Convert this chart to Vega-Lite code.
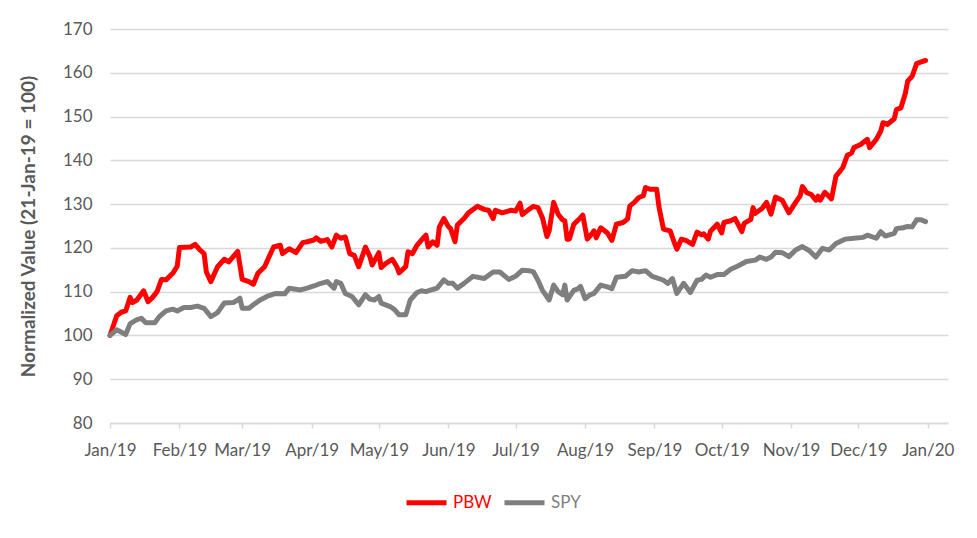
{
  "$schema": "https://vega.github.io/schema/vega-lite/v6.json",
  "description": "PBW vs SPY, normalized to 21-Jan-19 = 100",
  "width": 838,
  "height": 394,
  "autosize": "none",
  "padding": {"left": 110, "top": 29, "right": 29, "bottom": 115},
  "background": "white",
  "data": {"values": [
    {"date": "2019-01-21", "ticker": "PBW", "value": 100},
    {"date": "2019-01-24", "ticker": "PBW", "value": 104.5},
    {"date": "2019-01-26", "ticker": "PBW", "value": 105.3},
    {"date": "2019-01-28", "ticker": "PBW", "value": 105.6},
    {"date": "2019-01-30", "ticker": "PBW", "value": 108.7},
    {"date": "2019-01-31", "ticker": "PBW", "value": 107.5},
    {"date": "2019-02-02", "ticker": "PBW", "value": 108.1},
    {"date": "2019-02-05", "ticker": "PBW", "value": 110.2},
    {"date": "2019-02-07", "ticker": "PBW", "value": 107.7},
    {"date": "2019-02-09", "ticker": "PBW", "value": 108.7},
    {"date": "2019-02-11", "ticker": "PBW", "value": 110},
    {"date": "2019-02-13", "ticker": "PBW", "value": 112.8},
    {"date": "2019-02-15", "ticker": "PBW", "value": 112.7},
    {"date": "2019-02-18", "ticker": "PBW", "value": 114.2},
    {"date": "2019-02-20", "ticker": "PBW", "value": 115.8},
    {"date": "2019-02-21", "ticker": "PBW", "value": 120.1},
    {"date": "2019-02-26", "ticker": "PBW", "value": 120.2},
    {"date": "2019-02-28", "ticker": "PBW", "value": 120.8},
    {"date": "2019-03-02", "ticker": "PBW", "value": 119.6},
    {"date": "2019-03-04", "ticker": "PBW", "value": 118.7},
    {"date": "2019-03-05", "ticker": "PBW", "value": 114.5},
    {"date": "2019-03-07", "ticker": "PBW", "value": 112.3},
    {"date": "2019-03-10", "ticker": "PBW", "value": 115.7},
    {"date": "2019-03-13", "ticker": "PBW", "value": 117.4},
    {"date": "2019-03-15", "ticker": "PBW", "value": 116.8},
    {"date": "2019-03-17", "ticker": "PBW", "value": 118},
    {"date": "2019-03-19", "ticker": "PBW", "value": 119.2},
    {"date": "2019-03-21", "ticker": "PBW", "value": 112.8},
    {"date": "2019-03-24", "ticker": "PBW", "value": 112.3},
    {"date": "2019-03-26", "ticker": "PBW", "value": 111.7},
    {"date": "2019-03-28", "ticker": "PBW", "value": 114.2},
    {"date": "2019-03-31", "ticker": "PBW", "value": 115.7},
    {"date": "2019-04-02", "ticker": "PBW", "value": 118},
    {"date": "2019-04-04", "ticker": "PBW", "value": 120.2},
    {"date": "2019-04-07", "ticker": "PBW", "value": 120.6},
    {"date": "2019-04-08", "ticker": "PBW", "value": 118.7},
    {"date": "2019-04-11", "ticker": "PBW", "value": 119.8},
    {"date": "2019-04-14", "ticker": "PBW", "value": 118.9},
    {"date": "2019-04-17", "ticker": "PBW", "value": 121.2},
    {"date": "2019-04-19", "ticker": "PBW", "value": 121.4},
    {"date": "2019-04-22", "ticker": "PBW", "value": 121.8},
    {"date": "2019-04-23", "ticker": "PBW", "value": 122.3},
    {"date": "2019-04-25", "ticker": "PBW", "value": 121.5},
    {"date": "2019-04-28", "ticker": "PBW", "value": 121.9},
    {"date": "2019-04-30", "ticker": "PBW", "value": 120.2},
    {"date": "2019-05-02", "ticker": "PBW", "value": 122.9},
    {"date": "2019-05-04", "ticker": "PBW", "value": 122.2},
    {"date": "2019-05-06", "ticker": "PBW", "value": 122.5},
    {"date": "2019-05-08", "ticker": "PBW", "value": 118.7},
    {"date": "2019-05-10", "ticker": "PBW", "value": 118.3},
    {"date": "2019-05-12", "ticker": "PBW", "value": 115.7},
    {"date": "2019-05-15", "ticker": "PBW", "value": 120.2},
    {"date": "2019-05-17", "ticker": "PBW", "value": 118},
    {"date": "2019-05-18", "ticker": "PBW", "value": 116.1},
    {"date": "2019-05-21", "ticker": "PBW", "value": 118.9},
    {"date": "2019-05-22", "ticker": "PBW", "value": 115.5},
    {"date": "2019-05-24", "ticker": "PBW", "value": 116.4},
    {"date": "2019-05-27", "ticker": "PBW", "value": 117.4},
    {"date": "2019-05-29", "ticker": "PBW", "value": 115.7},
    {"date": "2019-05-30", "ticker": "PBW", "value": 114.3},
    {"date": "2019-06-02", "ticker": "PBW", "value": 115.7},
    {"date": "2019-06-03", "ticker": "PBW", "value": 119.1},
    {"date": "2019-06-05", "ticker": "PBW", "value": 118.7},
    {"date": "2019-06-07", "ticker": "PBW", "value": 120.6},
    {"date": "2019-06-09", "ticker": "PBW", "value": 121.8},
    {"date": "2019-06-11", "ticker": "PBW", "value": 122.9},
    {"date": "2019-06-12", "ticker": "PBW", "value": 120.2},
    {"date": "2019-06-14", "ticker": "PBW", "value": 121.4},
    {"date": "2019-06-16", "ticker": "PBW", "value": 120.6},
    {"date": "2019-06-17", "ticker": "PBW", "value": 124.8},
    {"date": "2019-06-19", "ticker": "PBW", "value": 126.7},
    {"date": "2019-06-21", "ticker": "PBW", "value": 124.9},
    {"date": "2019-06-22", "ticker": "PBW", "value": 124.4},
    {"date": "2019-06-24", "ticker": "PBW", "value": 121.4},
    {"date": "2019-06-25", "ticker": "PBW", "value": 125.2},
    {"date": "2019-06-28", "ticker": "PBW", "value": 126.7},
    {"date": "2019-06-30", "ticker": "PBW", "value": 128},
    {"date": "2019-07-04", "ticker": "PBW", "value": 129.5},
    {"date": "2019-07-07", "ticker": "PBW", "value": 128.8},
    {"date": "2019-07-09", "ticker": "PBW", "value": 128.6},
    {"date": "2019-07-11", "ticker": "PBW", "value": 126.7},
    {"date": "2019-07-12", "ticker": "PBW", "value": 128.6},
    {"date": "2019-07-15", "ticker": "PBW", "value": 128},
    {"date": "2019-07-19", "ticker": "PBW", "value": 128.6},
    {"date": "2019-07-21", "ticker": "PBW", "value": 128.4},
    {"date": "2019-07-23", "ticker": "PBW", "value": 130.2},
    {"date": "2019-07-24", "ticker": "PBW", "value": 127.6},
    {"date": "2019-07-27", "ticker": "PBW", "value": 128.8},
    {"date": "2019-07-29", "ticker": "PBW", "value": 129.5},
    {"date": "2019-07-31", "ticker": "PBW", "value": 129.2},
    {"date": "2019-08-02", "ticker": "PBW", "value": 126.9},
    {"date": "2019-08-04", "ticker": "PBW", "value": 122.6},
    {"date": "2019-08-05", "ticker": "PBW", "value": 123.9},
    {"date": "2019-08-07", "ticker": "PBW", "value": 130.4},
    {"date": "2019-08-09", "ticker": "PBW", "value": 127.7},
    {"date": "2019-08-11", "ticker": "PBW", "value": 126.4},
    {"date": "2019-08-12", "ticker": "PBW", "value": 126.2},
    {"date": "2019-08-13", "ticker": "PBW", "value": 122},
    {"date": "2019-08-14", "ticker": "PBW", "value": 122},
    {"date": "2019-08-16", "ticker": "PBW", "value": 125.4},
    {"date": "2019-08-19", "ticker": "PBW", "value": 126.9},
    {"date": "2019-08-20", "ticker": "PBW", "value": 127.5},
    {"date": "2019-08-22", "ticker": "PBW", "value": 122},
    {"date": "2019-08-24", "ticker": "PBW", "value": 123.2},
    {"date": "2019-08-25", "ticker": "PBW", "value": 123.9},
    {"date": "2019-08-26", "ticker": "PBW", "value": 122.3},
    {"date": "2019-08-28", "ticker": "PBW", "value": 124.6},
    {"date": "2019-08-31", "ticker": "PBW", "value": 123.4},
    {"date": "2019-09-02", "ticker": "PBW", "value": 121.7},
    {"date": "2019-09-04", "ticker": "PBW", "value": 125.4},
    {"date": "2019-09-07", "ticker": "PBW", "value": 125.8},
    {"date": "2019-09-09", "ticker": "PBW", "value": 126.6},
    {"date": "2019-09-10", "ticker": "PBW", "value": 129.6},
    {"date": "2019-09-12", "ticker": "PBW", "value": 130.4},
    {"date": "2019-09-14", "ticker": "PBW", "value": 131.5},
    {"date": "2019-09-16", "ticker": "PBW", "value": 131.9},
    {"date": "2019-09-17", "ticker": "PBW", "value": 133.8},
    {"date": "2019-09-19", "ticker": "PBW", "value": 133.4},
    {"date": "2019-09-22", "ticker": "PBW", "value": 133.4},
    {"date": "2019-09-23", "ticker": "PBW", "value": 129.4},
    {"date": "2019-09-25", "ticker": "PBW", "value": 124.3},
    {"date": "2019-09-28", "ticker": "PBW", "value": 123.9},
    {"date": "2019-09-30", "ticker": "PBW", "value": 121},
    {"date": "2019-10-01", "ticker": "PBW", "value": 119.7},
    {"date": "2019-10-03", "ticker": "PBW", "value": 122},
    {"date": "2019-10-05", "ticker": "PBW", "value": 121.7},
    {"date": "2019-10-08", "ticker": "PBW", "value": 120.8},
    {"date": "2019-10-10", "ticker": "PBW", "value": 123.6},
    {"date": "2019-10-12", "ticker": "PBW", "value": 123},
    {"date": "2019-10-13", "ticker": "PBW", "value": 123.2},
    {"date": "2019-10-15", "ticker": "PBW", "value": 122},
    {"date": "2019-10-16", "ticker": "PBW", "value": 123.8},
    {"date": "2019-10-19", "ticker": "PBW", "value": 125.4},
    {"date": "2019-10-21", "ticker": "PBW", "value": 123.4},
    {"date": "2019-10-22", "ticker": "PBW", "value": 125.8},
    {"date": "2019-10-25", "ticker": "PBW", "value": 126.2},
    {"date": "2019-10-27", "ticker": "PBW", "value": 126.7},
    {"date": "2019-10-30", "ticker": "PBW", "value": 123.7},
    {"date": "2019-10-31", "ticker": "PBW", "value": 125.6},
    {"date": "2019-11-03", "ticker": "PBW", "value": 126.5},
    {"date": "2019-11-04", "ticker": "PBW", "value": 129.2},
    {"date": "2019-11-05", "ticker": "PBW", "value": 127.9},
    {"date": "2019-11-08", "ticker": "PBW", "value": 129},
    {"date": "2019-11-10", "ticker": "PBW", "value": 130.4},
    {"date": "2019-11-12", "ticker": "PBW", "value": 127.7},
    {"date": "2019-11-14", "ticker": "PBW", "value": 131.6},
    {"date": "2019-11-17", "ticker": "PBW", "value": 130.9},
    {"date": "2019-11-20", "ticker": "PBW", "value": 128},
    {"date": "2019-11-23", "ticker": "PBW", "value": 130.4},
    {"date": "2019-11-25", "ticker": "PBW", "value": 131.9},
    {"date": "2019-11-26", "ticker": "PBW", "value": 134},
    {"date": "2019-11-28", "ticker": "PBW", "value": 132.6},
    {"date": "2019-11-30", "ticker": "PBW", "value": 132.2},
    {"date": "2019-12-02", "ticker": "PBW", "value": 130.9},
    {"date": "2019-12-03", "ticker": "PBW", "value": 131.8},
    {"date": "2019-12-04", "ticker": "PBW", "value": 130.9},
    {"date": "2019-12-06", "ticker": "PBW", "value": 132.7},
    {"date": "2019-12-09", "ticker": "PBW", "value": 131.2},
    {"date": "2019-12-11", "ticker": "PBW", "value": 136.4},
    {"date": "2019-12-14", "ticker": "PBW", "value": 138.3},
    {"date": "2019-12-16", "ticker": "PBW", "value": 141.1},
    {"date": "2019-12-18", "ticker": "PBW", "value": 141.7},
    {"date": "2019-12-19", "ticker": "PBW", "value": 142.9},
    {"date": "2019-12-22", "ticker": "PBW", "value": 143.6},
    {"date": "2019-12-25", "ticker": "PBW", "value": 144.8},
    {"date": "2019-12-26", "ticker": "PBW", "value": 142.9},
    {"date": "2019-12-29", "ticker": "PBW", "value": 144.8},
    {"date": "2019-12-31", "ticker": "PBW", "value": 146.7},
    {"date": "2020-01-01", "ticker": "PBW", "value": 148.6},
    {"date": "2020-01-03", "ticker": "PBW", "value": 148.2},
    {"date": "2020-01-06", "ticker": "PBW", "value": 149.5},
    {"date": "2020-01-07", "ticker": "PBW", "value": 151.6},
    {"date": "2020-01-09", "ticker": "PBW", "value": 152},
    {"date": "2020-01-11", "ticker": "PBW", "value": 155.4},
    {"date": "2020-01-12", "ticker": "PBW", "value": 158.1},
    {"date": "2020-01-14", "ticker": "PBW", "value": 159.2},
    {"date": "2020-01-16", "ticker": "PBW", "value": 162.1},
    {"date": "2020-01-18", "ticker": "PBW", "value": 162.5},
    {"date": "2020-01-20", "ticker": "PBW", "value": 162.8},
    {"date": "2019-01-21", "ticker": "SPY", "value": 100},
    {"date": "2019-01-24", "ticker": "SPY", "value": 101.3},
    {"date": "2019-01-28", "ticker": "SPY", "value": 100.2},
    {"date": "2019-01-30", "ticker": "SPY", "value": 102.7},
    {"date": "2019-02-02", "ticker": "SPY", "value": 103.6},
    {"date": "2019-02-04", "ticker": "SPY", "value": 103.9},
    {"date": "2019-02-06", "ticker": "SPY", "value": 102.9},
    {"date": "2019-02-10", "ticker": "SPY", "value": 102.9},
    {"date": "2019-02-12", "ticker": "SPY", "value": 104.3},
    {"date": "2019-02-15", "ticker": "SPY", "value": 105.6},
    {"date": "2019-02-18", "ticker": "SPY", "value": 106},
    {"date": "2019-02-20", "ticker": "SPY", "value": 105.6},
    {"date": "2019-02-23", "ticker": "SPY", "value": 106.4},
    {"date": "2019-02-26", "ticker": "SPY", "value": 106.4},
    {"date": "2019-03-01", "ticker": "SPY", "value": 106.7},
    {"date": "2019-03-04", "ticker": "SPY", "value": 106.2},
    {"date": "2019-03-07", "ticker": "SPY", "value": 104.3},
    {"date": "2019-03-10", "ticker": "SPY", "value": 105.2},
    {"date": "2019-03-13", "ticker": "SPY", "value": 107.4},
    {"date": "2019-03-17", "ticker": "SPY", "value": 107.5},
    {"date": "2019-03-19", "ticker": "SPY", "value": 108.1},
    {"date": "2019-03-20", "ticker": "SPY", "value": 108.5},
    {"date": "2019-03-21", "ticker": "SPY", "value": 106.2},
    {"date": "2019-03-24", "ticker": "SPY", "value": 106.2},
    {"date": "2019-03-26", "ticker": "SPY", "value": 107},
    {"date": "2019-03-29", "ticker": "SPY", "value": 108.1},
    {"date": "2019-04-01", "ticker": "SPY", "value": 108.9},
    {"date": "2019-04-05", "ticker": "SPY", "value": 109.6},
    {"date": "2019-04-09", "ticker": "SPY", "value": 109.5},
    {"date": "2019-04-11", "ticker": "SPY", "value": 110.8},
    {"date": "2019-04-16", "ticker": "SPY", "value": 110.4},
    {"date": "2019-04-19", "ticker": "SPY", "value": 110.8},
    {"date": "2019-04-22", "ticker": "SPY", "value": 111.3},
    {"date": "2019-04-24", "ticker": "SPY", "value": 111.7},
    {"date": "2019-04-28", "ticker": "SPY", "value": 112.3},
    {"date": "2019-05-01", "ticker": "SPY", "value": 110.8},
    {"date": "2019-05-02", "ticker": "SPY", "value": 112.3},
    {"date": "2019-05-04", "ticker": "SPY", "value": 111.9},
    {"date": "2019-05-06", "ticker": "SPY", "value": 109.6},
    {"date": "2019-05-09", "ticker": "SPY", "value": 108.9},
    {"date": "2019-05-12", "ticker": "SPY", "value": 107},
    {"date": "2019-05-15", "ticker": "SPY", "value": 109.3},
    {"date": "2019-05-17", "ticker": "SPY", "value": 108.3},
    {"date": "2019-05-19", "ticker": "SPY", "value": 108.1},
    {"date": "2019-05-21", "ticker": "SPY", "value": 108.9},
    {"date": "2019-05-22", "ticker": "SPY", "value": 107.4},
    {"date": "2019-05-26", "ticker": "SPY", "value": 106.6},
    {"date": "2019-05-28", "ticker": "SPY", "value": 105.9},
    {"date": "2019-05-30", "ticker": "SPY", "value": 104.7},
    {"date": "2019-06-02", "ticker": "SPY", "value": 104.7},
    {"date": "2019-06-04", "ticker": "SPY", "value": 108.1},
    {"date": "2019-06-07", "ticker": "SPY", "value": 109.8},
    {"date": "2019-06-09", "ticker": "SPY", "value": 110.2},
    {"date": "2019-06-11", "ticker": "SPY", "value": 110},
    {"date": "2019-06-14", "ticker": "SPY", "value": 110.5},
    {"date": "2019-06-16", "ticker": "SPY", "value": 110.8},
    {"date": "2019-06-19", "ticker": "SPY", "value": 112.7},
    {"date": "2019-06-21", "ticker": "SPY", "value": 111.9},
    {"date": "2019-06-23", "ticker": "SPY", "value": 111.9},
    {"date": "2019-06-25", "ticker": "SPY", "value": 110.8},
    {"date": "2019-06-28", "ticker": "SPY", "value": 111.9},
    {"date": "2019-07-02", "ticker": "SPY", "value": 113.5},
    {"date": "2019-07-07", "ticker": "SPY", "value": 113},
    {"date": "2019-07-11", "ticker": "SPY", "value": 114.5},
    {"date": "2019-07-14", "ticker": "SPY", "value": 114.5},
    {"date": "2019-07-18", "ticker": "SPY", "value": 112.8},
    {"date": "2019-07-21", "ticker": "SPY", "value": 113.5},
    {"date": "2019-07-24", "ticker": "SPY", "value": 114.9},
    {"date": "2019-07-27", "ticker": "SPY", "value": 114.8},
    {"date": "2019-07-29", "ticker": "SPY", "value": 114.5},
    {"date": "2019-07-31", "ticker": "SPY", "value": 112.6},
    {"date": "2019-08-02", "ticker": "SPY", "value": 110.3},
    {"date": "2019-08-05", "ticker": "SPY", "value": 108.1},
    {"date": "2019-08-07", "ticker": "SPY", "value": 111.5},
    {"date": "2019-08-09", "ticker": "SPY", "value": 110},
    {"date": "2019-08-11", "ticker": "SPY", "value": 109.3},
    {"date": "2019-08-12", "ticker": "SPY", "value": 111.5},
    {"date": "2019-08-13", "ticker": "SPY", "value": 108.1},
    {"date": "2019-08-16", "ticker": "SPY", "value": 110.3},
    {"date": "2019-08-18", "ticker": "SPY", "value": 110.7},
    {"date": "2019-08-19", "ticker": "SPY", "value": 111.2},
    {"date": "2019-08-21", "ticker": "SPY", "value": 108.4},
    {"date": "2019-08-23", "ticker": "SPY", "value": 109.2},
    {"date": "2019-08-25", "ticker": "SPY", "value": 109.6},
    {"date": "2019-08-28", "ticker": "SPY", "value": 111.5},
    {"date": "2019-08-31", "ticker": "SPY", "value": 111.1},
    {"date": "2019-09-02", "ticker": "SPY", "value": 110.7},
    {"date": "2019-09-04", "ticker": "SPY", "value": 113.3},
    {"date": "2019-09-08", "ticker": "SPY", "value": 113.5},
    {"date": "2019-09-11", "ticker": "SPY", "value": 114.8},
    {"date": "2019-09-14", "ticker": "SPY", "value": 114.5},
    {"date": "2019-09-17", "ticker": "SPY", "value": 114.8},
    {"date": "2019-09-20", "ticker": "SPY", "value": 113.5},
    {"date": "2019-09-23", "ticker": "SPY", "value": 113},
    {"date": "2019-09-25", "ticker": "SPY", "value": 112.6},
    {"date": "2019-09-27", "ticker": "SPY", "value": 111.9},
    {"date": "2019-09-29", "ticker": "SPY", "value": 113},
    {"date": "2019-10-01", "ticker": "SPY", "value": 109.6},
    {"date": "2019-10-04", "ticker": "SPY", "value": 111.9},
    {"date": "2019-10-07", "ticker": "SPY", "value": 109.8},
    {"date": "2019-10-10", "ticker": "SPY", "value": 112.6},
    {"date": "2019-10-12", "ticker": "SPY", "value": 112.8},
    {"date": "2019-10-14", "ticker": "SPY", "value": 113.8},
    {"date": "2019-10-16", "ticker": "SPY", "value": 113.3},
    {"date": "2019-10-19", "ticker": "SPY", "value": 113.9},
    {"date": "2019-10-22", "ticker": "SPY", "value": 113.9},
    {"date": "2019-10-25", "ticker": "SPY", "value": 115.1},
    {"date": "2019-10-28", "ticker": "SPY", "value": 115.8},
    {"date": "2019-11-01", "ticker": "SPY", "value": 116.9},
    {"date": "2019-11-05", "ticker": "SPY", "value": 117.2},
    {"date": "2019-11-07", "ticker": "SPY", "value": 117.9},
    {"date": "2019-11-10", "ticker": "SPY", "value": 117.4},
    {"date": "2019-11-12", "ticker": "SPY", "value": 117.9},
    {"date": "2019-11-14", "ticker": "SPY", "value": 119},
    {"date": "2019-11-17", "ticker": "SPY", "value": 118.9},
    {"date": "2019-11-20", "ticker": "SPY", "value": 118},
    {"date": "2019-11-23", "ticker": "SPY", "value": 119.5},
    {"date": "2019-11-26", "ticker": "SPY", "value": 120.3},
    {"date": "2019-11-29", "ticker": "SPY", "value": 119.4},
    {"date": "2019-12-02", "ticker": "SPY", "value": 117.9},
    {"date": "2019-12-05", "ticker": "SPY", "value": 119.9},
    {"date": "2019-12-08", "ticker": "SPY", "value": 119.5},
    {"date": "2019-12-11", "ticker": "SPY", "value": 121},
    {"date": "2019-12-15", "ticker": "SPY", "value": 122},
    {"date": "2019-12-19", "ticker": "SPY", "value": 122.2},
    {"date": "2019-12-23", "ticker": "SPY", "value": 122.4},
    {"date": "2019-12-25", "ticker": "SPY", "value": 122.9},
    {"date": "2019-12-29", "ticker": "SPY", "value": 122.2},
    {"date": "2019-12-31", "ticker": "SPY", "value": 123.7},
    {"date": "2020-01-02", "ticker": "SPY", "value": 122.7},
    {"date": "2020-01-06", "ticker": "SPY", "value": 123.3},
    {"date": "2020-01-07", "ticker": "SPY", "value": 124.4},
    {"date": "2020-01-10", "ticker": "SPY", "value": 124.6},
    {"date": "2020-01-12", "ticker": "SPY", "value": 124.9},
    {"date": "2020-01-14", "ticker": "SPY", "value": 124.8},
    {"date": "2020-01-16", "ticker": "SPY", "value": 126.4},
    {"date": "2020-01-18", "ticker": "SPY", "value": 126.4},
    {"date": "2020-01-20", "ticker": "SPY", "value": 126}
  ]},
  "encoding": {
    "x": {
      "field": "date",
      "type": "temporal",
      "title": null,
      "scale": {
        "type": "utc",
        "domain": [
          {"year": 2019, "month": 1, "date": 21, "utc": true},
          {"year": 2020, "month": 1, "date": 30, "utc": true}
        ]
      },
      "axis": {
        "format": "%b/%y",
        "values": [
          {"year": 2019, "month": 1, "date": 21, "utc": true},
          {"year": 2019, "month": 2, "date": 21, "utc": true},
          {"year": 2019, "month": 3, "date": 21, "utc": true},
          {"year": 2019, "month": 4, "date": 21, "utc": true},
          {"year": 2019, "month": 5, "date": 21, "utc": true},
          {"year": 2019, "month": 6, "date": 21, "utc": true},
          {"year": 2019, "month": 7, "date": 21, "utc": true},
          {"year": 2019, "month": 8, "date": 21, "utc": true},
          {"year": 2019, "month": 9, "date": 21, "utc": true},
          {"year": 2019, "month": 10, "date": 21, "utc": true},
          {"year": 2019, "month": 11, "date": 21, "utc": true},
          {"year": 2019, "month": 12, "date": 21, "utc": true},
          {"year": 2020, "month": 1, "date": 21, "utc": true}
        ],
        "grid": false,
        "domain": true,
        "domainColor": "#d9d9d9",
        "domainWidth": 1.5,
        "ticks": true,
        "tickColor": "#d9d9d9",
        "tickSize": 5,
        "tickWidth": 1.5,
        "labelPadding": 14,
        "labelFlush": false,
        "labelOverlap": false
      }
    },
    "y": {
      "field": "value",
      "type": "quantitative",
      "title": "Normalized Value (21-Jan-19 = 100)",
      "scale": {"domain": [80, 170], "nice": false, "zero": false},
      "axis": {
        "values": [80, 90, 100, 110, 120, 130, 140, 150, 160, 170],
        "grid": true,
        "gridColor": "#d9d9d9",
        "gridWidth": 1.5,
        "domain": false,
        "ticks": false,
        "labelPadding": 18,
        "titlePadding": 24,
        "titleFontWeight": "bold",
        "titleFontSize": 19
      }
    },
    "color": {
      "field": "ticker",
      "type": "nominal",
      "title": null,
      "scale": {"domain": ["PBW", "SPY"], "range": ["#ff0000", "#7f7f7f"]},
      "legend": {
        "orient": "none",
        "legendX": 294,
        "legendY": 451,
        "direction": "horizontal",
        "symbolType": "stroke",
        "symbolSize": 1600,
        "symbolStrokeWidth": 5,
        "labelOffset": 4,
        "columnPadding": 2,
        "labelFontSize": 17,
        "labelFont": "Lato",
        "encode": {
          "labels": {"update": {"fill": {"signal": "datum.value === 'PBW' ? '#ff0000' : '#7f7f7f'"}}}
        }
      }
    }
  },
  "layer": [
    {
      "transform": [{"filter": "datum.ticker === 'PBW'"}],
      "mark": {"type": "line", "strokeWidth": 5, "strokeJoin": "round", "strokeCap": "round"}
    },
    {
      "transform": [{"filter": "datum.ticker === 'SPY'"}],
      "mark": {"type": "line", "strokeWidth": 5, "strokeJoin": "round", "strokeCap": "round"}
    }
  ],
  "config": {
    "view": {"stroke": null},
    "font": "Lato",
    "axis": {
      "labelFont": "Lato",
      "labelFontSize": 17,
      "labelColor": "#595959",
      "titleFont": "Lato",
      "titleColor": "#595959"
    }
  }
}
